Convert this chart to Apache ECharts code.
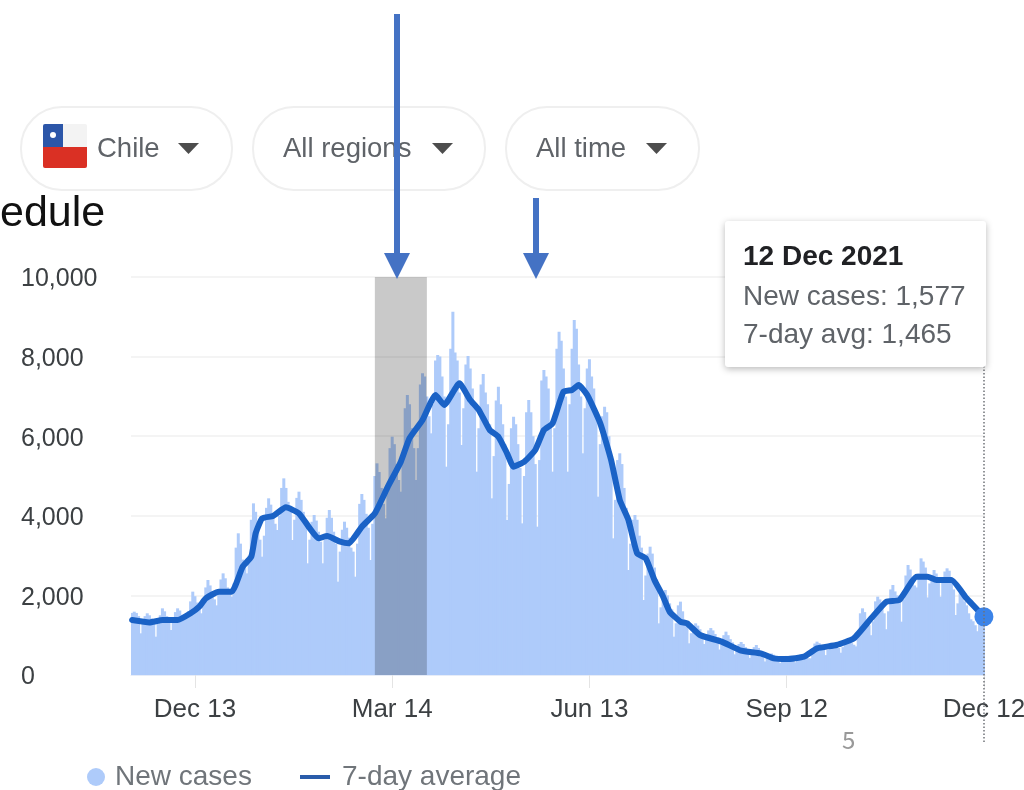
<!DOCTYPE html>
<html>
<head>
<meta charset="utf-8">
<style>html,body{margin:0;padding:0;background:#fff}#chart{width:1024px;height:790px}</style>
<script src="https://cdn.jsdelivr.net/npm/echarts@6/dist/echarts.min.js"></script>
</head>
<body>
<div id="chart"></div>
<script>
// Daily confirmed cases for Chile, one row per week from 14 Nov 2020 to 12 Dec 2021
const firstDay = '2020-11-14';
const newCases = [
  1560,1591,1560,1480,
  1047,1300,1480,1550,1500,1420,1360,
  963,1280,1500,1675,1600,1480,1400,
  1130,1340,1580,1675,1620,1510,1450,
  1466,1600,1850,2094,1980,1820,1700,
  1550,1800,2200,2387,2250,2050,1900,
  1750,2050,2400,2554,2430,2200,2050,
  1970,2300,3200,3560,3300,2900,2700,
  2554,3000,3900,4313,4100,3700,3400,
  2973,3500,4200,4439,4280,4000,3800,
  3643,4000,4700,4941,4700,4350,4100,
  3392,3900,4450,4606,4400,4100,3800,
  2806,3400,3850,4020,3880,3600,3350,
  2806,3400,3950,4146,3950,3600,3300,
  2345,3100,3650,3852,3700,3450,3200,3100,
  2470,3300,4300,4548,4400,4050,3700,
  2889,3800,5000,5318,5100,4700,4300,
  3936,4600,5700,5988,5800,5300,4900,
  4606,5400,6700,7035,6800,6200,5700,
  4900,5700,7300,7580,7500,7000,6500,
  6072,6800,7900,8040,8000,7500,7000,
  5234,6300,8200,9130,8100,7900,7100,
  5780,6700,7800,8015,7700,7200,6800,
  5109,6200,7300,7563,7100,6800,6300,
  4439,5500,6900,7245,6800,6300,5800,
  3894,4800,6200,6490,6300,5800,5200,
  3810,5000,6600,6910,6600,6000,5300,
  3727,5400,7400,7663,7500,7200,6300,
  5109,6200,8200,8627,8400,7700,7000,
  5109,6800,8200,8920,8700,7800,7000,
  5570,6700,7700,7931,7500,7200,6600,
  4480,5800,6500,6742,6600,6000,5300,
  3434,4400,5400,5570,5300,4700,4200,
  2638,3300,3900,4020,3900,3500,3200,
  1884,2500,3050,3224,3050,2700,2400,
  1298,1700,2000,2136,2000,1800,1650,
  963,1300,1750,1843,1600,1380,1280,
  796,1050,1220,1298,1240,1150,1050,
  780,950,1120,1180,1120,1030,950,
  640,800,1000,1089,1000,900,820,
  520,650,780,830,780,700,640,
  430,560,700,754,680,600,540,
  340,420,500,540,510,460,420,
  300,380,450,480,450,420,390,
  320,410,480,510,490,450,420,
  420,600,790,838,800,720,640,
  500,630,760,800,770,720,680,
  560,700,850,900,870,800,760,
  720,1000,1550,1675,1580,1400,1250,
  1000,1350,1850,1968,1900,1700,1550,
  1150,1600,2150,2261,2100,2000,1900,
  1340,1900,2500,2764,2650,2450,2250,
  2200,2550,2931,2850,2700,1950,2300,
  2500,2638,2550,2450,1968,2350,2600,
  2680,2620,2400,2150,1507,1800,2050,
  2000,1850,1750,1550,1400,1350,1250,
  1100,1350,1500,1577
];
// Rolling average, stored at the days where the curve changes direction
const avgDays = [0,8,14,21,27,31,34,40,46,51,55,57,60,65,71,77,82,86,90,96,100,106,112,118,124,128,134,140,144,151,156,160,165,169,173,176,181,186,190,194,199,203,206,210,216,221,225,229,233,237,241,245,248,253,256,262,272,281,290,296,302,310,316,325,333,341,348,354,362,367,371,378,385,393];
const avgValues = [1380,1320,1380,1380,1550,1717,1926,2094,2094,2720,2973,3560,3936,3995,4213,4060,3685,3434,3492,3350,3308,3727,4060,4732,5360,5950,6407,7035,6784,7328,6910,6658,6156,5988,5570,5234,5360,5653,6156,6323,7119,7160,7286,7035,6323,5402,4397,3894,3057,2931,2387,1968,1591,1340,1298,1005,838,611,544,419,402,460,670,754,921,1424,1843,1884,2470,2470,2387,2387,1926,1465];
const tickDates = ['2020-12-13','2021-03-14','2021-06-13','2021-09-12','2021-12-12'];
const monthNames = ['Jan','Feb','Mar','Apr','May','Jun','Jul','Aug','Sep','Oct','Nov','Dec'];
const shadedRange = ['2021-03-06','2021-03-30'];
const yTicks = { min: 0, max: 10000, step: 2000 };
const filters = ['Chile','All regions','All time'];

const start = Date.parse(firstDay + 'T00:00:00Z');
const dates = newCases.map((_, i) => new Date(start + i * 86400000).toISOString().slice(0, 10));
const shortDate = s => monthNames[+s.slice(5, 7) - 1] + ' ' + (+s.slice(8));
const lastDate = dates[dates.length - 1];
const lastAvg = avgValues[avgValues.length - 1];
const lastCases = newCases[newCases.length - 1];
const fmt = n => n.toLocaleString('en-US');

const UI = 'Liberation Sans, Arial, sans-serif';
const BLUE = '#4472c4';

function pill(x, w) {
  return { type:'rect', shape:{x, y:107, width:w, height:83, r:41}, style:{fill:'#fff', stroke:'#efefef', lineWidth:2} };
}
function caret(x) {
  return { type:'polygon', shape:{points:[[x,143],[x+21,143],[x+10.5,154]]}, style:{fill:'#4d4d4d'} };
}
function uiText(x, y, text, size, fill, weight) {
  return { type:'text', x, y, style:{text, font:(weight||'normal')+' '+size+'px '+UI, fill, textVerticalAlign:'middle'}, z:20 };
}
function arrow(cx, top) {
  return [
    { type:'rect', shape:{x:cx-3, y:top, width:6, height:256-top}, style:{fill:BLUE}, z:30 },
    { type:'polygon', shape:{points:[[cx-13,253],[cx+13,253],[cx,279]]}, style:{fill:BLUE}, z:30 }
  ];
}

const chart = echarts.init(document.getElementById('chart'), null, { renderer:'canvas' });
chart.setOption({
  animation:false,
  backgroundColor:'#fff',
  textStyle:{ fontFamily:UI },
  grid:{ left:131, right:39, top:277, bottom:115, outerBoundsMode:'none' },
  legend:[
    { data:[{name:'New cases', icon:'circle'}], left:82, top:758, itemWidth:18, itemHeight:18, itemGap:0, selectedMode:false,
      textStyle:{ fontSize:28, color:'#70757a', fontFamily:UI, padding:[0,0,0,5] } },
    { data:[{name:'7-day average', icon:'rect'}], left:295, top:758, itemWidth:30, itemHeight:4, selectedMode:false,
      textStyle:{ fontSize:28, color:'#70757a', fontFamily:UI, padding:[0,0,0,7] } }
  ],
  xAxis:{
    type:'category', data:dates, boundaryGap:true,
    axisLine:{ show:true, lineStyle:{ color:'#e6ecf8', width:1 } },
    axisTick:{ show:true, alignWithLabel:true, length:13, lineStyle:{ color:'#e4e4e4', width:1 },
      interval:(i, v) => tickDates.includes(v) },
    axisLabel:{ show:true, margin:22, fontSize:26, color:'#3c4043', fontFamily:UI,
      interval:(i, v) => tickDates.includes(v), formatter:v => shortDate(v) },
    splitLine:{ show:false }
  },
  yAxis:{
    type:'value', min:yTicks.min, max:yTicks.max, interval:yTicks.step,
    axisLine:{ show:false }, axisTick:{ show:false },
    axisLabel:{ align:'left', margin:110, formatter:v => '{n|' + fmt(v) + '}',
      rich:{ n:{ fontSize:25, color:'#3c4043', fontFamily:UI, padding:[5,0,0,0] } } },
    splitLine:{ lineStyle:{ color:'#f4f4f4', width:2 } }
  },
  series:[
    { name:'New cases', type:'bar', data:newCases, barWidth:3, barGap:'0%', z:2,
      itemStyle:{ color:'#aecbfa' }, emphasis:{ disabled:true } },
    { name:'Shaded period', type:'line', data:[], z:3, silent:true,
      markArea:{ silent:true, z:3, itemStyle:{ color:'rgba(10,10,10,0.22)' }, data:[[{ xAxis:shadedRange[0] },{ xAxis:shadedRange[1] }]] } },
    { name:'7-day average', type:'line', z:4, showSymbol:false, symbol:'none', smooth:0.15,
      data:avgDays.map((d, i) => [dates[d], avgValues[i]]),
      lineStyle:{ color:'#1a62c6', width:6, cap:'round', join:'round' },
      itemStyle:{ color:'#2a5caa' },
      markPoint:{ silent:true, symbol:'circle', symbolSize:19, itemStyle:{ color:'#3b83e8' }, label:{ show:false },
        data:[{ coord:[lastDate, lastAvg] }] } }
  ],
  graphic:[
    pill(21,211), pill(253,232), pill(506,193),
    // Chilean flag on the country selector
    { type:'rect', shape:{x:43,y:124,width:44,height:23,r:[2,2,0,0]}, style:{fill:'#f3f3f3'} },
    { type:'rect', shape:{x:43,y:124,width:20,height:23,r:[2,0,0,0]}, style:{fill:'#2c56a8'} },
    { type:'circle', shape:{cx:53,cy:135,r:3}, style:{fill:'#fff'} },
    { type:'rect', shape:{x:43,y:147,width:44,height:21,r:[0,0,2,2]}, style:{fill:'#da3024'} },
    caret(178), caret(432), caret(646),
    uiText(97,149,filters[0],27.5,'#5f6368'),
    uiText(283,149,filters[1],27.5,'#5f6368'),
    uiText(536,149,filters[2],27.5,'#5f6368'),
    // Fragment of the slide heading and the page number
    { type:'text', x:0, y:214, style:{text:'edule', font:'43px '+UI, fill:'#111', textVerticalAlign:'middle'}, z:20 },
    { type:'text', x:842, y:740, style:{text:'5', font:'24px "Noto Sans CJK JP", "Noto Sans", sans-serif', fill:'#999', textVerticalAlign:'middle'}, z:20 },
    // Dotted guide under the hover card
    { type:'line', shape:{x1:984,y1:366,x2:984,y2:742}, style:{stroke:'#6f7378', lineWidth:1.5, lineDash:[1.5,2]}, z:10 },
    // Hover card
    { type:'rect', shape:{x:725,y:221,width:261,height:146,r:3}, style:{fill:'#fff', shadowBlur:7, shadowColor:'rgba(0,0,0,0.28)', shadowOffsetY:2}, z:15 },
    uiText(743,257,'12 Dec 2021',28,'#202124','bold'),
    uiText(743,297,'New cases: '+fmt(lastCases),28,'#5f6368'),
    uiText(743,335,'7-day avg: '+fmt(lastAvg),28,'#5f6368'),
    ...arrow(397,14), ...arrow(536,198)
  ]
});
</script>
</body>
</html>
